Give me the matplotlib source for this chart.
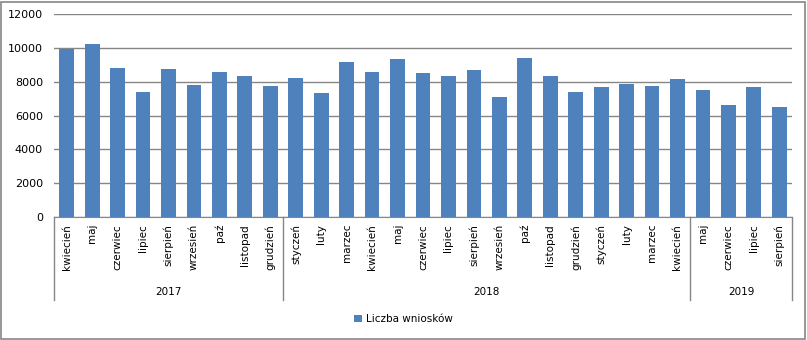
import matplotlib
matplotlib.use("Agg")
import matplotlib.pyplot as plt
import matplotlib.transforms as mtransforms
from matplotlib.patches import Rectangle

# monthly counts, April 2017 - August 2019
months = ["kwiecień", "maj", "czerwiec", "lipiec", "sierpień", "wrzesień",
          "paź", "listopad", "grudzień",
          "styczeń", "luty", "marzec", "kwiecień", "maj", "czerwiec",
          "lipiec", "sierpień", "wrzesień", "paź", "listopad", "grudzień",
          "styczeń", "luty", "marzec", "kwiecień",
          "maj", "czerwiec", "lipiec", "sierpień"]
values = [9970, 10260, 8820, 7400, 8760, 7810, 8580, 8350, 7750,
          8230, 7340, 9180, 8580, 9350, 8520, 8350, 8700, 7100, 9410, 8350, 7400,
          7700, 7870, 7750, 8170,
          7520, 6630, 7700, 6510]
years = ["2017", "2018", "2019"]
group_sizes = [9, 16, 4]

W, H = 807, 340
fig = plt.figure(figsize=(W / 100, H / 100), dpi=100)
ax = fig.add_axes([54 / W, (H - 217) / H, (792 - 54) / W, (217 - 14.3) / H])

x = list(range(len(values)))
ax.bar(x, values, width=0.58, color="#4F81BD", label="Liczba wniosków", zorder=3)

ax.set_xlim(-0.5, len(values) - 0.5)
ax.set_ylim(0, 12000)
ax.set_yticks(range(0, 12001, 2000))
ax.yaxis.grid(True, color="#868686", linewidth=1, zorder=0)
ax.set_axisbelow(True)
for side in ("left", "right", "top"):
    ax.spines[side].set_visible(False)
ax.spines["bottom"].set_color("#868686")
ax.tick_params(axis="y", length=0, pad=8, labelsize=8)
ax.set_xticks(x)
ax.set_xticklabels(months, rotation=90, fontsize=7.5)
ax.tick_params(axis="x", length=0, pad=5)

# multi-level category axis: separators and year labels
trans = mtransforms.blended_transform_factory(ax.transData, ax.transAxes)
sep_depth = -(300 - 217) / (217 - 14.3)
bounds = [-0.5]
for n in group_sizes:
    bounds.append(bounds[-1] + n)
for b in bounds:
    ax.plot([b, b], [0, sep_depth], transform=trans, color="#868686",
            linewidth=1, clip_on=False)
year_y = -(292 - 217) / (217 - 14.3)
for i, yr in enumerate(years):
    ax.text((bounds[i] + bounds[i + 1]) / 2, year_y, yr, transform=trans,
            ha="center", va="center", fontsize=7.5)

fig.legend(loc="center", bbox_to_anchor=(0.5, (H - 319) / H), frameon=False,
           fontsize=7.5, handlelength=0.7, handleheight=0.7, handletextpad=0.4)

fig.patches.append(Rectangle((1 / W, 1 / H), (W - 3) / W, (H - 3) / H,
                             transform=fig.transFigure, fill=False,
                             edgecolor="#868686", linewidth=1.2))

fig.savefig("out.png", dpi=100)
